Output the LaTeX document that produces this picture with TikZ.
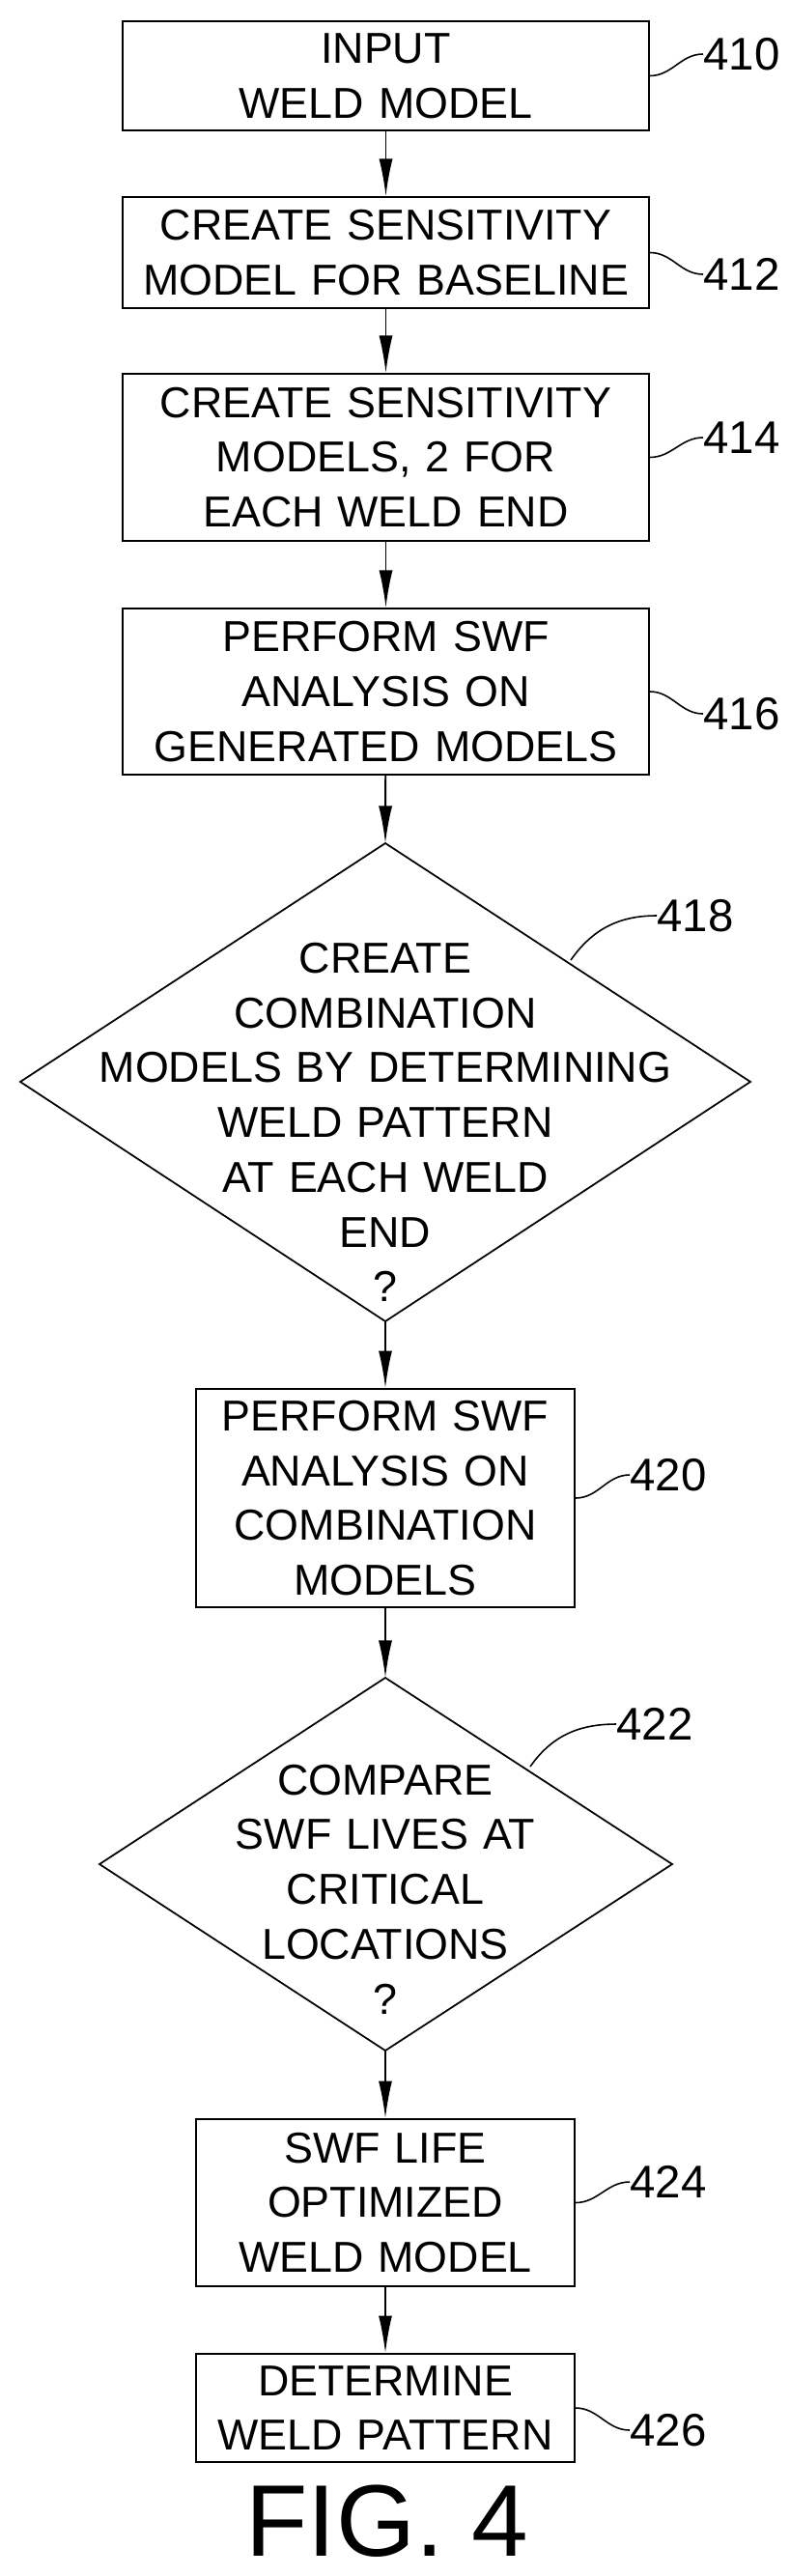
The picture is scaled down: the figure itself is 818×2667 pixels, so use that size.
\documentclass[tikz,border=0pt]{standalone}
\usepackage{fontspec}
\setmainfont{Liberation Sans}
\usetikzlibrary{arrows.meta}
\tikzset{
  text/.style = {align=center, inner sep=0pt, text width=#1,
                  font=\fontsize{25.5}{32.3}\selectfont},
  caixa/.style = {text=#1, draw, line width=1pt},
  fletxa/.style = {line width=1.1pt, -{Latex[length=22pt, width=8pt]}},
  ref/.style = {font=\fontsize{27}{30}\selectfont, anchor=west, inner sep=0pt},
  guia/.style = {line width=0.9pt}
}
\begin{document}
\begin{tikzpicture}[x=0.02cm, y=-0.02cm]
			\useasboundingbox (0,0) rectangle (818,2667);
			% caixes de dalt
			\node[caixa=10.9cm, minimum height=2.26cm] (b410) at (399.5,78.5) {INPUT\\WELD MODEL};
			\node[caixa=10.9cm, minimum height=2.3cm] (b412) at (399.5,261.5) {CREATE SENSITIVITY\\MODEL FOR BASELINE};
			\node[caixa=10.9cm, minimum height=3.46cm] (b414) at (399.5,473.5) {CREATE SENSITIVITY\\MODELS, 2 FOR\\EACH WELD END};
			\node[caixa=10.9cm, minimum height=3.44cm] (b416) at (399.5,716) {PERFORM SWF\\ANALYSIS ON\\GENERATED MODELS};
			% rombe 418
			\coordinate (d418n) at (399,873);
			\coordinate (d418s) at (399,1368);
			\draw[line width=1pt] (d418n) -- (777,1120) -- (d418s) -- (21,1120) -- cycle;
			\node[text=13cm] (t418) at (399,1162) {CREATE\\COMBINATION\\MODELS BY DETERMINING\\WELD PATTERN\\AT EACH WELD\\END\\?};
			% caixa 420
			\node[caixa=7.84cm, minimum height=4.52cm] (b420) at (399,1551) {PERFORM SWF\\ANALYSIS ON\\COMBINATION\\MODELS};
			% rombe 422
			\coordinate (d422n) at (399,1737);
			\coordinate (d422s) at (399,2123);
			\draw[line width=1pt] (d422n) -- (696,1930) -- (d422s) -- (103,1930) -- cycle;
			\node[text=8cm] (t422) at (399,1956) {COMPARE\\SWF LIVES AT\\CRITICAL\\LOCATIONS\\?};
			% caixes de baix
			\node[caixa=7.84cm, minimum height=3.46cm] (b424) at (399,2280.5) {SWF LIFE\\OPTIMIZED\\WELD MODEL};
			\node[caixa=7.84cm, minimum height=2.24cm] (b426) at (399,2493) {DETERMINE\\WELD PATTERN};
			\node[font=\fontsize{60}{60}\selectfont, inner sep=0pt] (fig) at (401,2610) {FIG. 4};
			% fletxes
			\draw[fletxa] (b410) -- (b412);
			\draw[fletxa] (b412) -- (b414);
			\draw[fletxa] (b414) -- (b416);
			\draw[fletxa] (b416) -- (d418n);
			\draw[fletxa] (d418s) -- (b420);
			\draw[fletxa] (b420) -- (d422n);
			\draw[fletxa] (d422s) -- (b424);
			\draw[fletxa] (b424) -- (b426);
			% numeros de referencia
			\node[ref] (n410) at (728,56) {410};
			\node[ref] (n412) at (728,284) {412};
			\node[ref] (n414) at (728,453) {414};
			\node[ref] (n416) at (728,739) {416};
			\node[ref] (n418) at (680,948) {418};
			\node[ref] (n420) at (652,1527) {420};
			\node[ref] (n422) at (638,1785) {422};
			\node[ref] (n424) at (652,2259) {424};
			\node[ref] (n426) at (652,2516) {426};
			\coordinate (p418) at (591,994);
			\coordinate (p422) at (549,1829);
			\draw[guia] (b410.east) to[out=0, in=180] (n410.west);
			\draw[guia] (b412.east) to[out=0, in=180] (n412.west);
			\draw[guia] (b414.east) to[out=0, in=180] (n414.west);
			\draw[guia] (b416.east) to[out=0, in=180] (n416.west);
			\draw[guia] (p418) to[out=55, in=180] (n418.west);
			\draw[guia] (b420.east) to[out=0, in=180] (n420.west);
			\draw[guia] (p422) to[out=55, in=180] (n422.west);
			\draw[guia] (b424.east) to[out=0, in=180] (n424.west);
			\draw[guia] (b426.east) to[out=0, in=180] (n426.west);
\end{tikzpicture}
\end{document}
